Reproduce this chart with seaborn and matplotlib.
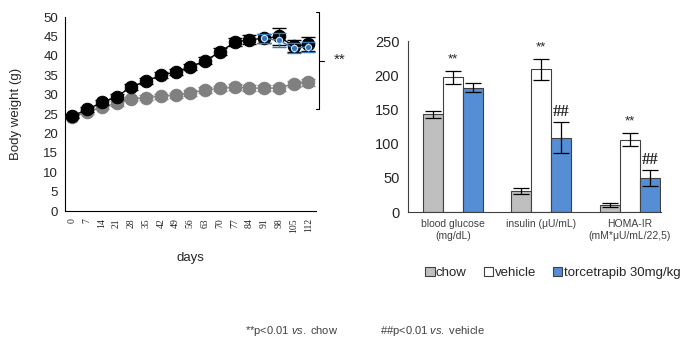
import numpy as np
import pandas as pd
import matplotlib
matplotlib.use("Agg")
import matplotlib.pyplot as plt
from matplotlib.patches import Patch
import seaborn as sns

sns.set_theme(style="white")
plt.rcParams['font.family'] = ['Liberation Sans', 'DejaVu Sans']
plt.rcParams['mathtext.fontset'] = 'custom'
plt.rcParams['mathtext.rm'] = 'Liberation Sans'
plt.rcParams['mathtext.it'] = 'Liberation Sans:italic'

# ---------------- data ----------------
days = [0, 7, 14, 21, 28, 35, 42, 49, 56, 63, 70, 77, 84, 91, 98, 105, 112]
chow_bw = [24.3, 25.5, 26.8, 27.8, 28.9, 29.2, 29.6, 29.8, 30.4, 31.2, 31.6, 31.9, 31.7, 31.7, 31.7, 32.8, 33.2]
chow_bw_err = [0.4, 0.5, 0.5, 0.6, 0.6, 0.6, 0.6, 0.6, 0.7, 0.7, 0.7, 0.8, 0.8, 0.8, 0.8, 0.8, 0.9]
vehicle_bw = [24.5, 26.2, 28.0, 29.5, 32.0, 33.5, 35.0, 35.8, 37.2, 38.7, 41.0, 43.5, 44.2, 44.5, 45.0, 42.5, 43.0]
vehicle_bw_err = [0.5, 0.6, 0.6, 0.7, 0.7, 0.7, 0.8, 0.8, 0.8, 0.9, 0.9, 1.0, 1.2, 1.2, 2.2, 1.6, 1.8]
torce_days = [91, 98, 105, 112]
torce_bw = [44.5, 44.0, 42.0, 42.3]
torce_bw_err = [1.2, 1.8, 1.3, 1.3]

bar_categories = ["blood glucose\n(mg/dL)", "insulin (\u03bcU/mL)", "HOMA-IR\n(mM*\u03bcU/mL/22,5)"]
groups = ["chow", "vehicle", "torcetrapib 30mg/kg"]
chow_vals = [143, 31, 10.5]
chow_err = [5.5, 4.4, 2.4]
vehicle_vals = [197, 209, 106]
vehicle_err = [9.7, 15.4, 10]
torce_vals = [182, 109, 50]
torce_err = [6.8, 22.4, 11.5]
star_marks = ["**", "**", "**"]       # above vehicle bars
hash_marks = ["", "##", "##"]         # above torcetrapib bars

# ---------------- figure ----------------
fig = plt.figure(figsize=(6.91, 3.41), dpi=100)
ax1 = fig.add_axes([0.094, 0.381, 0.363, 0.569])
ax2 = fig.add_axes([0.590, 0.378, 0.366, 0.501])

# ----- left: body weight -----
pos = {d: i for i, d in enumerate(days)}
df_chow = pd.DataFrame({"x": [pos[d] for d in days], "y": chow_bw})
df_veh = pd.DataFrame({"x": [pos[d] for d in days], "y": vehicle_bw})
df_tor = pd.DataFrame({"x": [pos[d] for d in torce_days], "y": torce_bw})

ax1.errorbar(df_chow["x"], df_chow["y"], yerr=chow_bw_err, fmt="none", ecolor="#8c8c8c",
             elinewidth=1, capsize=5, capthick=1, zorder=2)
sns.lineplot(data=df_chow, x="x", y="y", ax=ax1, color="#808080", marker="o",
             markersize=9, markeredgecolor="#808080", linewidth=1, zorder=3)
ax1.errorbar(df_veh["x"], df_veh["y"], yerr=vehicle_bw_err, fmt="none", ecolor="black",
             elinewidth=1, capsize=5, capthick=1, zorder=4)
sns.lineplot(data=df_veh, x="x", y="y", ax=ax1, color="black", marker="o",
             markersize=9, markeredgecolor="black", linewidth=1, zorder=5)
ax1.errorbar(df_tor["x"], df_tor["y"], yerr=torce_bw_err, fmt="none", ecolor="#2e7bc4",
             elinewidth=1, capsize=5, capthick=1, zorder=6)
sns.lineplot(data=df_tor, x="x", y="y", ax=ax1, color="#2e7bc4", marker="o",
             markersize=4.5, markeredgecolor="#d8e6f3", markeredgewidth=0.8, linewidth=1, zorder=7)

ax1.set_xlim(-0.5, len(days) - 0.5)
ax1.set_ylim(0, 50)
ax1.set_yticks(range(0, 51, 5))
ax1.set_xticks([i for i in range(len(days))])
ax1.set_xticklabels([str(d) for d in days], rotation=90, fontsize=7,
                    family=['Liberation Serif'])
ax1.set_xticks([i - 0.5 for i in range(len(days) + 1)], minor=True)
ax1.tick_params(axis="x", which="major", length=0, pad=5)
ax1.tick_params(axis="x", which="minor", length=3, width=0.8, color="black", direction="out")
ax1.tick_params(axis="y", length=3, width=0.8, color="black", direction="out", labelsize=9.5, pad=2)
ax1.set_xlabel("days", fontsize=9.5, labelpad=14)
ax1.set_ylabel("Body weight (g)", fontsize=9.5)
ax1.yaxis.set_label_coords(-0.17, 0.5)
for s in ["top", "right"]:
    ax1.spines[s].set_visible(False)
for s in ["left", "bottom"]:
    ax1.spines[s].set_color("black")
    ax1.spines[s].set_linewidth(0.8)

# bracket + significance
bx = 16.75
ax1.plot([16.5, bx, bx, 16.5], [51.3, 51.3, 26.3, 26.3], color="black", lw=0.8, clip_on=False)
ax1.plot([bx, 17.05], [38.7, 38.7], color="black", lw=0.8, clip_on=False)
ax1.text(17.7, 38.9, "**", fontsize=11, ha="left", va="center")

# ----- right: bars -----
bar_df = pd.DataFrame({
    "cat": np.repeat(bar_categories, 3),
    "group": groups * 3,
    "val": [v for trio in zip(chow_vals, vehicle_vals, torce_vals) for v in trio],
    "err": [v for trio in zip(chow_err, vehicle_err, torce_err) for v in trio],
})
palette = {"chow": "#bfbfbf", "vehicle": "white", "torcetrapib 30mg/kg": "#558ed5"}
sns.barplot(data=bar_df, x="cat", y="val", hue="group", hue_order=groups, order=bar_categories,
            palette=palette, width=0.68, edgecolor="#404040", linewidth=0.8,
            errorbar=None, legend=False, ax=ax2, saturation=1)

# error bars from bar positions
for patch_i, patch in enumerate(ax2.patches):
    g = patch_i // 3
    c = patch_i % 3
    row = bar_df[(bar_df["group"] == groups[g]) & (bar_df["cat"] == bar_categories[c])].iloc[0]
    xc = patch.get_x() + patch.get_width() / 2
    ax2.errorbar(xc, row["val"], yerr=row["err"], fmt="none", ecolor="black",
                 elinewidth=0.9, capsize=6, capthick=0.9, zorder=5)
    if g == 1 and star_marks[c]:
        ax2.text(xc, row["val"] + row["err"] + 8, star_marks[c], ha="center", va="bottom",
                 fontsize=9.5)
    if g == 2 and hash_marks[c]:
        ax2.text(xc, row["val"] + row["err"] + 3, hash_marks[c], ha="center", va="bottom",
                 fontsize=12, fontweight="bold", family=['Liberation Serif'])

ax2.set_xlim(-0.51, 2.35)
ax2.set_ylim(0, 250)
ax2.set_yticks(range(0, 251, 50))
ax2.tick_params(axis="y", length=0, labelsize=10.5, pad=6)
ax2.tick_params(axis="x", length=0, labelsize=7.5, labelcolor="#404040", pad=5)
ax2.set_xlabel("")
ax2.set_ylabel("")
for s in ["top", "right"]:
    ax2.spines[s].set_visible(False)
for s in ["left", "bottom"]:
    ax2.spines[s].set_color("#404040")
    ax2.spines[s].set_linewidth(0.8)

handles = [Patch(facecolor=palette[g], edgecolor="#404040", linewidth=0.8, label=g) for g in groups]
fig.legend(handles=handles, loc="center", bbox_to_anchor=(0.80, 0.199), ncol=3, frameon=False,
           fontsize=9.5, handlelength=0.7, handleheight=0.7, handletextpad=0.1, columnspacing=1.3,
           borderpad=0.1)

fig.text(0.355, 0.029, r"**p<0.01 $\mathit{vs.}$ chow", fontsize=8, color="#404040", ha="left", va="center")
fig.text(0.55, 0.029, r"##p<0.01 $\mathit{vs.}$ vehicle", fontsize=8, color="#404040", ha="left", va="center")

fig.savefig("out.png", dpi=100, facecolor="white")
